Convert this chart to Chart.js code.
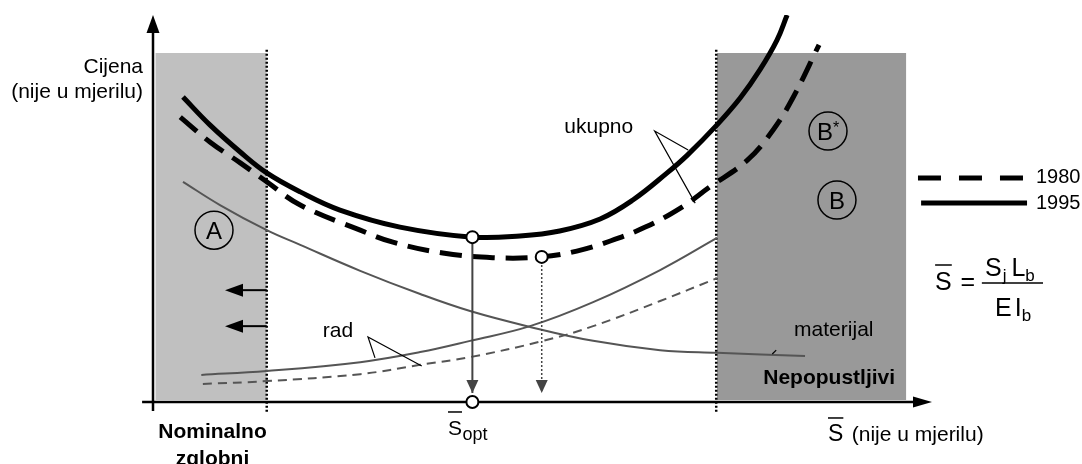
<!DOCTYPE html>
<html>
<head>
<meta charset="utf-8">
<script src="https://cdn.jsdelivr.net/npm/chart.js@4.4.1/dist/chart.umd.min.js"></script>
<style>
  html, body { margin: 0; padding: 0; background: #fff; }
  #wrap { width: 1082px; height: 464px; }
</style>
</head>
<body>
<div id="wrap"><canvas id="myChart" width="1082" height="464"></canvas></div>
<script>
// schematic, not to scale: x = S (0..100), y = cijena (0..100)
const ukupno1995 = [[3.85,78.8],[7.3,71.6],[11.2,64.6],[14.6,59.2],[18.9,54.3],[24.0,49.6],[31.7,45.2],[41.0,42.6],[47.1,42.9],[52.2,44.2],[57.4,47.3],[61.6,52.2],[66.0,59.2],[68.6,63.8],[72.4,71.6],[75.4,78.6],[77.9,85.8],[80.1,93.5],[81.4,100]];
const ukupno1980 = [[3.5,73.6],[7.3,67.2],[11.2,61.8],[14.6,56.9],[18.9,50.9],[26.6,44.4],[30.8,41.3],[37.2,38.5],[43.6,37.3],[49.9,37.5],[54.4,39.0],[58.7,41.6],[63.2,45.2],[67.7,50.1],[71.5,55.6],[76.3,62.5],[79.6,70.3],[82.2,78.8],[85.5,92.3]];
const materijal = [[3.85,56.9],[8.6,50.9],[14.6,44.4],[18.9,40.6],[26.6,33.9],[34.3,27.9],[40.7,23.5],[48.4,19.4],[56.5,15.8],[65.1,13.4],[72.4,12.7],[83.7,11.9]];
const rad1995 = [[6.2,7.0],[14.6,8.0],[26.6,10.3],[34.3,12.9],[40.7,15.8],[48.4,19.6],[56.5,25.8],[65.1,34.1],[72.4,42.4]];
const rad1980 = [[6.4,4.65],[14.6,5.4],[26.6,7.2],[34.3,9.6],[40.7,11.6],[50.1,15.8],[56.5,19.6],[65.1,26.1],[72.4,32.0]];

const zonaA = [[0.3,90.2],[14.6,90.2]];      // nominalno zglobni
const zonaB = [[72.4,90.2],[96.7,90.2]];     // nepopustljivi
const granice = [14.6, 72.3];                // tockaste granice
const minimumi = [[41.0,42.6],[49.9,37.5]];  // S_opt za 1995 i 1980

const pts = a => a.map(p => ({x: p[0], y: p[1]}));

function linija(data, boja, sirina, extra) {
    return Object.assign({
        data: pts(data), showLine: true, borderColor: boja, borderWidth: sirina,
        pointRadius: 0, fill: false, tension: 0
    }, extra || {});
}

const datasets = [
    linija(zonaA, 'rgba(0,0,0,0)', 0, {fill: {value: 0.5}, backgroundColor: '#c0c0c0', order: 100}),
    linija(zonaB, 'rgba(0,0,0,0)', 0, {fill: {value: 0.5}, backgroundColor: '#999999', order: 100}),
    ...granice.map(g => linija([[g,91],[g,-2.8]], '#000', 2.5, {borderDash: [2,2], clip: false, order: 90})),
    linija(materijal, '#555', 2, {tension: 0.4, order: 50}),
    linija(rad1995, '#555', 2, {tension: 0.4, order: 50}),
    linija(rad1980, '#555', 2, {tension: 0.4, borderDash: [9,6], order: 50}),
    linija(ukupno1980, '#000', 5, {tension: 0.4, borderDash: [22,11], order: 40}),
    linija(ukupno1995, '#000', 5, {tension: 0.4, order: 40}),
    linija([minimumi[0], [minimumi[0][0], 2.3]], '#444', 2, {order: 30}),
    linija([minimumi[1], [minimumi[1][0], 2.3]], '#444', 1.5, {borderDash: [2,2], order: 30}),
    // leaders
    linija([[68.7,65.1],[64.4,70.0],[69.6,51.4]], '#000', 1.2, {order: 20}),
    linija([[28.5,11.4],[27.6,16.8],[34.5,9.3]], '#000', 1.2, {order: 20}),
    linija([[79.5,12.4],[80.0,13.4]], '#000', 1.2, {order: 20}),
    // legend lines
    linija([[98.2,57.9],[112.2,57.9]], '#000', 5, {borderDash: [23,18], clip: false, order: 20}),
    linija([[98.6,51.4],[112.2,51.4]], '#000', 5, {clip: false, order: 20}),
    {
        data: pts([minimumi[0], minimumi[1], [minimumi[0][0], 0]]),
        showLine: false, pointRadius: 6, pointBackgroundColor: '#fff',
        pointBorderColor: '#000', pointBorderWidth: 2, clip: false, order: 0
    }
];

const FONT = '"Liberation Sans", Arial, sans-serif';

function glava(ctx, tx, ty, dx, dy, len, half) {
    const bx = tx - dx * len, by = ty - dy * len;
    ctx.beginPath();
    ctx.moveTo(tx, ty);
    ctx.lineTo(bx - dy * half, by + dx * half);
    ctx.lineTo(bx + dy * half, by - dx * half);
    ctx.closePath();
    ctx.fill();
}

function krug(ctx, cx, cy, slovo, zvjezdica) {
    ctx.lineWidth = 1.5;
    ctx.beginPath();
    ctx.arc(cx, cy, 19, 0, Math.PI * 2);
    ctx.stroke();
    ctx.font = '24px ' + FONT;
    ctx.textAlign = 'left';
    ctx.textBaseline = 'alphabetic';
    const w = ctx.measureText(slovo).width;
    let wz = 0;
    if (zvjezdica) { ctx.font = '16px ' + FONT; wz = ctx.measureText('*').width; ctx.font = '24px ' + FONT; }
    const x0 = cx - (w + wz) / 2;
    ctx.fillText(slovo, x0, cy + 8.6);
    if (zvjezdica) { ctx.font = '16px ' + FONT; ctx.fillText('*', x0 + w, cy + 2); }
}

const crtez = {
    id: 'crtez',
    beforeDatasetsDraw(chart) {
        const {ctx, scales: {x, y}} = chart;
        const X = v => x.getPixelForValue(v), Y = v => y.getPixelForValue(v);
        ctx.save();
        ctx.strokeStyle = '#000';
        ctx.fillStyle = '#000';
        ctx.lineWidth = 2.5;
        ctx.beginPath();
        ctx.moveTo(X(0), Y(-2.3)); ctx.lineTo(X(0), Y(96));
        ctx.moveTo(X(-1.4), Y(0)); ctx.lineTo(X(98), Y(0));
        ctx.stroke();
        glava(ctx, X(0), Y(100), 0, -1, 18, 6.5);
        glava(ctx, X(100), Y(0), 1, 0, 19, 5.5);
        ctx.restore();
    },
    afterDatasetsDraw(chart) {
        const {ctx, scales: {x, y}} = chart;
        const X = v => x.getPixelForValue(v), Y = v => y.getPixelForValue(v);
        ctx.save();
        ctx.fillStyle = '#000';
        ctx.strokeStyle = '#000';

        // arrow heads on verticals
        ctx.fillStyle = '#444';
        glava(ctx, X(minimumi[0][0]), Y(2.3), 0, 1, 13, 6);
        glava(ctx, X(minimumi[1][0]), Y(2.3), 0, 1, 13, 6);
        ctx.fillStyle = '#000';

        // left arrows
        ctx.lineWidth = 2;
        [28.9, 19.6].forEach(v => {
            ctx.beginPath();
            ctx.moveTo(X(14.6), Y(v)); ctx.lineTo(X(11.5), Y(v));
            ctx.stroke();
            glava(ctx, X(9.24), Y(v), -1, 0, 18, 6.5);
        });

        // circled letters
        krug(ctx, X(7.83), Y(44.4), 'A', false);
        krug(ctx, X(86.65), Y(70.0), 'B', true);
        krug(ctx, X(87.8), Y(52.2), 'B', false);

        ctx.textBaseline = 'alphabetic';
        ctx.font = '21px ' + FONT;
        ctx.textAlign = 'right';
        ctx.fillText('Cijena', X(-1.28), Y(85.0));
        ctx.fillText('(nije u mjerilu)', X(-1.28), Y(78.55));

        ctx.textAlign = 'left';
        ctx.fillText('ukupno', X(52.8), Y(69.5));
        ctx.fillText('rad', X(21.8), Y(16.8));
        ctx.fillText('materijal', X(82.3), Y(17.05));

        ctx.font = 'bold 21px ' + FONT;
        ctx.textAlign = 'center';
        ctx.fillText('Nominalno', X(7.64), Y(-9.3));
        ctx.fillText('zglobni', X(7.64), Y(-16.3));
        ctx.fillText('Nepopustljivi', X(86.8), Y(4.65));

        // S_opt
        ctx.textAlign = 'left';
        ctx.lineWidth = 1.5;
        ctx.font = '21px ' + FONT;
        let x0 = X(37.87), w = ctx.measureText('S').width;
        ctx.fillText('S', x0, Y(-8.53));
        ctx.beginPath(); ctx.moveTo(x0, Y(-2.58)); ctx.lineTo(x0 + w, Y(-2.58)); ctx.stroke();
        ctx.font = '18px ' + FONT;
        ctx.fillText('opt', x0 + w + 0.5, Y(-9.8));

        // x axis title
        ctx.font = '23px ' + FONT;
        x0 = X(86.65); w = ctx.measureText('S').width;
        ctx.fillText('S', x0, Y(-10.1));
        ctx.beginPath(); ctx.moveTo(x0, Y(-4.13)); ctx.lineTo(x0 + w, Y(-4.13)); ctx.stroke();
        ctx.font = '21px ' + FONT;
        ctx.fillText('(nije u mjerilu)', X(89.7), Y(-10.1));

        // legend text
        ctx.font = '20px ' + FONT;
        ctx.textBaseline = 'middle';
        ctx.fillText('1980', X(113.35), Y(57.9));
        ctx.fillText('1995', X(113.35), Y(51.4));
        ctx.textBaseline = 'alphabetic';

        // formula  S = Sj Lb / E Ib
        ctx.font = '25px ' + FONT;
        x0 = X(100.4); w = ctx.measureText('S').width;
        ctx.fillText('S', x0, Y(28.9));
        ctx.beginPath(); ctx.moveTo(x0, Y(35.4)); ctx.lineTo(x0 + w, Y(35.4)); ctx.stroke();
        ctx.textAlign = 'center';
        ctx.fillText('=', X(104.6), Y(28.9));
        ctx.textAlign = 'left';
        ctx.beginPath(); ctx.moveTo(X(106.4), Y(30.75)); ctx.lineTo(X(114.25), Y(30.75)); ctx.stroke();

        const yb = Y(32.6);
        let cx = X(106.8);
        ctx.font = '25px ' + FONT; ctx.fillText('S', cx, yb); cx += ctx.measureText('S').width + 1;
        ctx.font = '17px ' + FONT; ctx.fillText('j', cx, yb + 5); cx += ctx.measureText('j').width + 5;
        ctx.font = '25px ' + FONT; ctx.fillText('L', cx, yb); cx += ctx.measureText('L').width;
        ctx.font = '17px ' + FONT; ctx.fillText('b', cx, yb + 5);

        const yd = Y(22.2);
        cx = X(108.1);
        ctx.font = '25px ' + FONT; ctx.fillText('E', cx, yd); cx += ctx.measureText('E').width + 3;
        ctx.fillText('I', cx, yd); cx += ctx.measureText('I').width;
        ctx.font = '17px ' + FONT; ctx.fillText('b', cx, yd + 5);

        ctx.restore();
    }
};

new Chart(document.getElementById('myChart'), {
    type: 'scatter',
    data: {datasets},
    options: {
        responsive: false,
        animation: false,
        layout: {padding: {left: 153, right: 150, top: 15, bottom: 62}},
        scales: {
            x: {type: 'linear', min: 0, max: 100, display: false},
            y: {type: 'linear', min: 0, max: 100, display: false}
        },
        plugins: {legend: {display: false}, tooltip: {enabled: false}}
    },
    plugins: [crtez]
});
</script>
</body>
</html>
